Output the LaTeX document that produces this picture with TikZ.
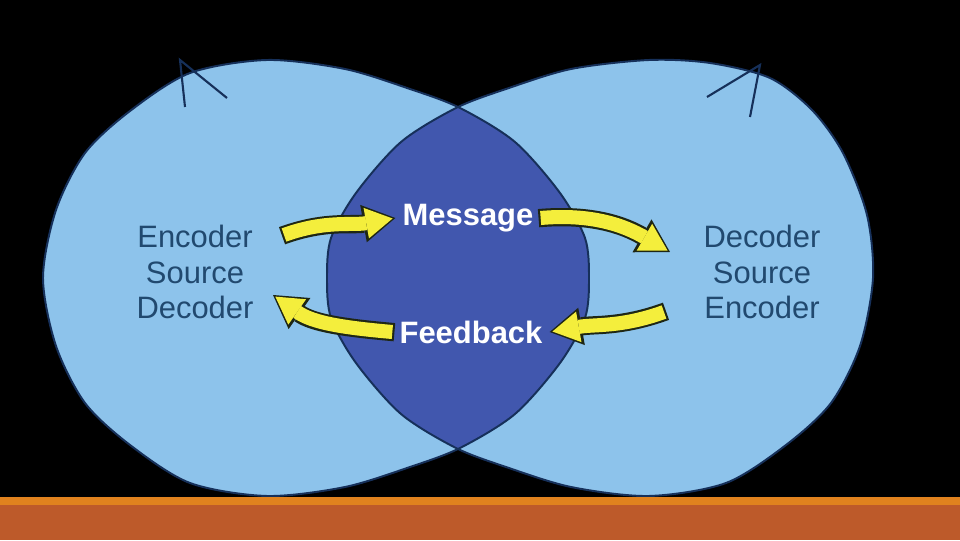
\documentclass[tikz,border=0pt]{standalone}
\usepackage{fontspec}
\setmainfont{Liberation Sans}
\usepackage{xcolor}
\usepackage{tikz}
\usetikzlibrary{arrows.meta}

\definecolor{disc}{HTML}{8DC3EB}
\definecolor{lens}{HTML}{4157AE}
\definecolor{rim}{HTML}{16305A}
\definecolor{labelblue}{HTML}{21496F}
\definecolor{arrowyellow}{HTML}{F4EE3C}
\definecolor{arrowrim}{HTML}{1E2614}
\definecolor{barlight}{HTML}{E0821E}
\definecolor{bardark}{HTML}{BD5A2A}

% outlines of the two overlapping discs (pixel units, y up)
\newcommand{\leftdisc}{plot[smooth cycle] coordinates {
  (43,262) (56,330) (85,387) (130,429) (190,467) (267,480) (345,471)
  (410,451) (460,432) (515,398) (560,347) (585,302) (589,262) (585,222)
  (560,177) (515,126) (460,92) (410,73) (345,53) (267,44) (190,57)
  (130,95) (85,137) (56,194)}}
\newcommand{\rightdisc}{plot[smooth cycle] coordinates {
  (873,262) (867,325) (843,387) (812,430) (770,462) (710,477) (649,480)
  (571,471) (506,451) (456,432) (401,398) (356,347) (331,302) (327,262)
  (331,222) (356,177) (401,126) (456,92) (506,73) (571,53) (649,44)
  (726,57) (786,95) (831,137) (860,194)}}

\tikzset{
  sidetext/.style={text=labelblue, align=center, font=\fontsize{22}{25}\selectfont},
  midtext/.style={text=white, font=\bfseries\fontsize{22}{25}\selectfont, inner sep=5pt},
  fatarrow/.style={draw=arrowyellow, line width=10pt, shorten >=2pt,
    -{Triangle[length=19pt,width=22pt,line width'=0pt]},
    preaction={draw=arrowrim, line width=13pt, shorten >=0pt, shorten <=-1.5pt,
      -{Triangle[length=23pt,width=27pt,line width'=0pt]}}},
}

\begin{document}
\begin{tikzpicture}[x=0.025cm, y=0.025cm]
    % background and frame
    \useasboundingbox (0,0) rectangle (960,540);
    \fill[black] (0,0) rectangle (960,540);

    % the two discs and their overlap
    \fill[disc] \leftdisc;
    \fill[disc] \rightdisc;
    \begin{scope}
      \clip \leftdisc;
      \fill[lens] \rightdisc;
    \end{scope}
    \draw[rim, line width=1.4pt] \leftdisc;
    \draw[rim, line width=1.4pt] \rightdisc;

    % small marks on top of the discs
    \draw[rim, line width=1.5pt] (185,433) -- (180,480) -- (227,442);
    \draw[rim, line width=1.5pt] (750,423) -- (760,475) -- (707,443);

    % labels
    \node[sidetext] (enc) at (195,268) {Encoder\\Source\\Decoder};
    \node[sidetext] (dec) at (762,268) {Decoder\\Source\\Encoder};
    \node[midtext] (msg) at (468,322) {Message};
    \node[midtext] (fb) at (471,208) {Feedback};

    % free ends of the arrows
    \coordinate (enc-out) at (284,305);
    \coordinate (dec-in) at (670,288);
    \coordinate (dec-out) at (664,228);
    \coordinate (enc-in) at (273,245);

    % yellow arrows
    \draw[fatarrow] (enc-out) to[out=20, in=190] (msg.west);
    \draw[fatarrow] (msg.east) to[out=5, in=150] (dec-in);
    \draw[fatarrow] (dec-out) to[out=200, in=10] (fb.east);
    \draw[fatarrow] (fb.west) to[out=175, in=-35] (enc-in);

    % orange bar
    \fill[bardark] (0,0) rectangle (960,35);
    \fill[barlight] (0,35) rectangle (960,43);
\end{tikzpicture}
\end{document}
